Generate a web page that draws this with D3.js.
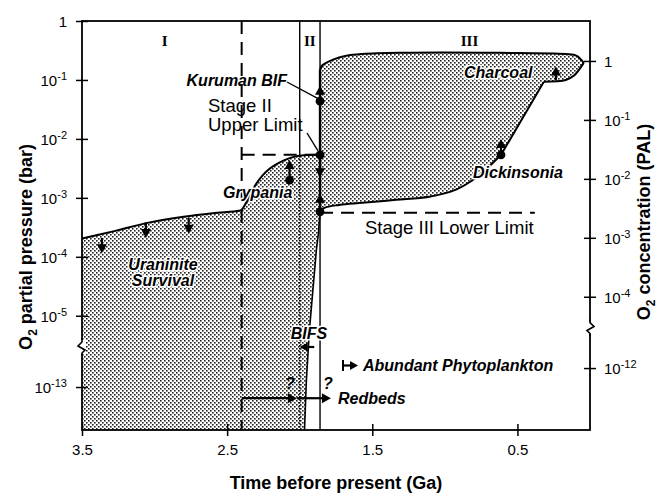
<!DOCTYPE html>
<html>
<head>
<meta charset="utf-8">
<script src="https://cdn.jsdelivr.net/npm/d3@7"></script>
<style>
  body { margin: 0; background: #fff; }
  text { font-family: "Liberation Sans", Arial, Helvetica, sans-serif; fill: #000; }
  .lbl { font-weight: bold; font-style: italic; font-size: 16px; }
  .halo { paint-order: stroke; stroke: #fff; stroke-width: 3px; stroke-linejoin: round; }
  .roman { font-family: "Liberation Serif", "Times New Roman", serif; font-size: 15px; font-weight: bold; }
  .tick text { font-size: 15px; }
</style>
</head>
<body>
<svg id="chart" width="665" height="496"></svg>
<script>
// time before present in Ga, oxygen as log10(pO2 in bar)
const uraniniteCurve = [[3.5, -3.69], [3.27, -3.56], [3.04, -3.42], [2.8, -3.32], [2.6, -3.26], [2.42, -3.22]];
const grypaniaCurve = [[2.40, -3.20], [2.345, -2.97], [2.30, -2.76], [2.22, -2.53], [2.105, -2.36], [2.015, -2.29], [1.86, -2.27]];
const stage3Upper = [[1.86, -0.83], [1.844, -0.75], [1.775, -0.66], [1.679, -0.59], [1.569, -0.56], [1.31, -0.54], [0.627, -0.54], [0.167, -0.56], [0.091, -0.59], [0.043, -0.71]];
const charcoalEdge = [[0.043, -0.71], [0.112, -0.93], [0.167, -1.0], [0.318, -1.03]];
const dickinsoniaEdge = [[0.318, -1.03], [0.613, -2.27]];
const stage3Lower = [[0.613, -2.27], [0.696, -2.47], [0.785, -2.66], [0.923, -2.86], [1.108, -2.98], [1.335, -3.034], [1.569, -3.085], [1.727, -3.12], [1.83, -3.17], [1.86, -3.237]];
const bifEdge = [[1.86, -3.237], [1.871, -3.6], [1.885, -3.88], [1.933, -5.24], [1.954, -12.88], [1.967, -13.73]];

// constraints: dots and arrows [t, from, to]
const fossilDots = [[1.86, -1.36], [1.86, -2.27], [1.86, -3.237], [2.07, -2.70], [0.613, -2.27]];
const constraintArrows = [
  [1.86, -1.36, -1.1], [1.86, -2.27, -2.65], [1.86, -3.237, -2.93],
  [2.07, -2.70, -2.36], [0.613, -2.27, -2.0], [0.235, -1.0, -0.77],
  [3.363, -3.68, -3.94], [3.06, -3.42, -3.68], [2.765, -3.34, -3.61]
];

const stageBounds = [2.4, 2.0, 1.86];
const stage2UpperLimit = -2.27;
const stage3LowerLimit = -3.237;

const timeTicks = [3.5, 2.5, 1.5, 0.5];
const pTicks = [0, -1, -2, -3, -4, -5, -13];
const palTicks = [0, -1, -2, -3, -4, -12];
const PAL_OFFSET = Math.log10(0.21);

const svg = d3.select('#chart');
const L = 82, R = 590, T = 21, B = 430;

const x = d3.scaleLinear().domain([3.5, 0]).range([L, R]);
// broken log axis: upper part down to ~10^-5.5, lower part around 10^-13
const y = d3.scaleLinear().domain([0, -5.53, -12.32, -13.73]).range([T, 347, 347, B]);
const yPal = d3.scaleLinear().domain(y.domain().map(d => d - PAL_OFFSET)).range(y.range());

const defs = svg.append('defs');
const pat = defs.append('pattern').attr('id', 'stip')
  .attr('width', 4).attr('height', 4).attr('patternUnits', 'userSpaceOnUse');
pat.append('rect').attr('width', 4).attr('height', 4).attr('fill', '#fff');
pat.append('rect').attr('x', 0).attr('y', 0).attr('width', 1.6).attr('height', 1.6).attr('fill', '#222');
pat.append('rect').attr('x', 2).attr('y', 2).attr('width', 1.6).attr('height', 1.6).attr('fill', '#222');

const smooth = d3.curveCatmullRom.alpha(0.5);
function seg(pts, curve) {
  return d3.line().x(d => x(d[0])).y(d => y(d[1])).curve(curve)(pts);
}

const pieces = [
  seg(uraniniteCurve.concat(grypaniaCurve), smooth),
  seg(stage3Upper, smooth),
  seg(charcoalEdge, smooth),
  seg(dickinsoniaEdge, d3.curveLinear),
  seg(stage3Lower, smooth),
  seg(bifEdge, d3.curveLinear)
];
const fillPath = pieces[0] + pieces.slice(1).map(s => s.replace(/^M/, 'L')).join('') +
  'L' + x(3.5) + ',' + y(-13.73) + 'Z';

svg.append('path').attr('d', fillPath).attr('fill', 'url(#stip)').attr('stroke', 'none');

// stage boundaries
svg.append('line')
  .attr('x1', x(stageBounds[0])).attr('x2', x(stageBounds[0]))
  .attr('y1', T).attr('y2', B)
  .attr('stroke', '#000').attr('stroke-width', 2).attr('stroke-dasharray', '13,8');
svg.append('line')
  .attr('x1', x(stageBounds[1])).attr('x2', x(stageBounds[1]))
  .attr('y1', T).attr('y2', y(-2.29))
  .attr('stroke', '#000').attr('stroke-width', 1.4);
svg.append('line')
  .attr('x1', x(stageBounds[1])).attr('x2', x(stageBounds[1]))
  .attr('y1', y(-2.29)).attr('y2', B)
  .attr('stroke', '#000').attr('stroke-width', 1.6).attr('stroke-dasharray', '1.5,1.5');
svg.append('line')
  .attr('x1', x(stageBounds[2])).attr('x2', x(stageBounds[2]))
  .attr('y1', T).attr('y2', B)
  .attr('stroke', '#000').attr('stroke-width', 1.4);

// limits
svg.append('line')
  .attr('x1', x(2.4)).attr('x2', x(1.86))
  .attr('y1', y(stage2UpperLimit)).attr('y2', y(stage2UpperLimit))
  .attr('stroke', '#000').attr('stroke-width', 2).attr('stroke-dasharray', '13,8');
svg.append('line')
  .attr('x1', x(1.86)).attr('x2', x(0.38))
  .attr('y1', y(stage3LowerLimit) + 1).attr('y2', y(stage3LowerLimit) + 1)
  .attr('stroke', '#000').attr('stroke-width', 2).attr('stroke-dasharray', '13,8');

// boundary curves
pieces.forEach((d, i) => {
  svg.append('path').attr('d', d).attr('fill', 'none')
    .attr('stroke', '#000').attr('stroke-width', i === 5 ? 1.6 : 2);
});
svg.append('line')
  .attr('x1', x(1.86)).attr('x2', x(1.86))
  .attr('y1', y(-0.83)).attr('y2', y(-3.237))
  .attr('stroke', '#000').attr('stroke-width', 2.4);

// arrows
function arrow(x1, y1, x2, y2, head, w) {
  head = head || 9; w = w || 5;
  const a = Math.atan2(y2 - y1, x2 - x1);
  const c = Math.cos(a), s = Math.sin(a);
  svg.append('line')
    .attr('x1', x1).attr('y1', y1)
    .attr('x2', x2 - c * head * 0.7).attr('y2', y2 - s * head * 0.7)
    .attr('stroke', '#000').attr('stroke-width', 2.2);
  svg.append('path')
    .attr('d', 'M' + x2 + ',' + y2 +
      'L' + (x2 - c * head + s * w) + ',' + (y2 - s * head - c * w) +
      'L' + (x2 - c * head - s * w) + ',' + (y2 - s * head + c * w) + 'Z')
    .attr('fill', '#000');
}

constraintArrows.forEach(d => arrow(x(d[0]), y(d[1]), x(d[0]), y(d[2])));

svg.selectAll('.dot').data(fossilDots).enter().append('circle')
  .attr('class', 'dot')
  .attr('cx', d => x(d[0])).attr('cy', d => y(d[1])).attr('r', 4.4)
  .attr('fill', '#000');

// leader lines
svg.append('line').attr('x1', 287).attr('y1', 82).attr('x2', x(1.87)).attr('y2', y(-1.32))
  .attr('stroke', '#000').attr('stroke-width', 1.4);
svg.append('line').attr('x1', 307).attr('y1', 133).attr('x2', x(1.875)).attr('y2', y(-2.2))
  .attr('stroke', '#000').attr('stroke-width', 1.4);

// redbeds, BIFs, phytoplankton
const yRed = y(-13.19);
arrow(x(2.4), yRed, x(2.02), yRed);
arrow(x(2.02), yRed, x(1.785), yRed);
arrow(x(1.90), y(-5.53), x(2.0), y(-5.53), 8, 4.5);
svg.append('line').attr('x1', 343).attr('x2', 343).attr('y1', 360).attr('y2', 371)
  .attr('stroke', '#000').attr('stroke-width', 2);
arrow(343, 365.5, 358, 365.5, 8, 4.5);

// frame
svg.append('rect').attr('x', L).attr('y', T).attr('width', R - L).attr('height', B - T)
  .attr('fill', 'none').attr('stroke', '#000').attr('stroke-width', 1.8);

// axes
function supLabel(sel, v, anchor) {
  sel.each(function (d) {
    const t = d3.select(this).text(null).attr('text-anchor', anchor).attr('dy', '0.36em');
    const e = v(d);
    if (e === 0) { t.text('1'); return; }
    t.append('tspan').text('10');
    t.append('tspan').attr('dy', -6).attr('font-size', 11).text(String(e));
  });
}

const gl = svg.append('g').attr('transform', `translate(${L},0)`)
  .call(d3.axisLeft(y).tickValues(pTicks).tickSize(6).tickPadding(9));
gl.select('.domain').remove();
gl.selectAll('.tick line').attr('x1', 6).attr('stroke-width', 1.5);
gl.selectAll('.tick text').call(supLabel, d => d, 'end');

const gr = svg.append('g').attr('transform', `translate(${R},0)`)
  .call(d3.axisRight(yPal).tickValues(palTicks).tickSize(6).tickPadding(8));
gr.select('.domain').remove();
gr.selectAll('.tick line').attr('x1', -6).attr('stroke-width', 1.5);
gr.selectAll('.tick text').call(supLabel, d => d, 'start');

const gb = svg.append('g').attr('transform', `translate(0,${B})`)
  .call(d3.axisBottom(x).tickValues(timeTicks).tickSize(6).tickFormat(d3.format('.1f')));
gb.select('.domain').remove();
gb.selectAll('.tick line').attr('y1', -6).attr('stroke-width', 1.5);
gb.selectAll('.tick text').attr('y', 14);
svg.selectAll('.tick text').style('font-family', '"Liberation Sans", Arial, sans-serif');

// axis breaks
svg.append('rect').attr('x', L - 4).attr('y', 340).attr('width', 8).attr('height', 14).attr('fill', '#fff');
svg.append('path').attr('d', `M${L},338L${L},342L${L - 4},346L${L + 3},350L${L},353L${L},356`)
  .attr('fill', 'none').attr('stroke', '#000').attr('stroke-width', 1.6);
const yb = y(-5.2);
svg.append('rect').attr('x', R - 4).attr('y', yb - 6).attr('width', 8).attr('height', 12).attr('fill', '#fff');
svg.append('path').attr('d', `M${R},${yb - 8}L${R},${yb - 5}L${R + 4},${yb - 1}L${R - 3},${yb + 3}L${R},${yb + 6}L${R},${yb + 9}`)
  .attr('fill', 'none').attr('stroke', '#000').attr('stroke-width', 1.6);

// axis titles
function title(tx, ty, rot, parts) {
  const t = svg.append('text')
    .attr('transform', `translate(${tx},${ty})` + (rot ? ` rotate(${rot})` : ''))
    .attr('text-anchor', 'middle').attr('font-weight', 'bold').attr('font-size', 18);
  parts.forEach(p => {
    const s = t.append('tspan').text(p.t);
    if (p.dy) s.attr('dy', p.dy);
    if (p.fs) s.attr('font-size', p.fs);
  });
}
title((L + R) / 2, 489, 0, [{ t: 'Time before present (Ga)' }]);
title(32, 247, -90, [{ t: 'O' }, { t: '2', dy: 5, fs: 12 }, { t: ' partial pressure (bar)', dy: -5 }]);
title(650, 222, -90, [{ t: 'O' }, { t: '2', dy: 5, fs: 12 }, { t: ' concentration (PAL)', dy: -5 }]);

// stage numerals
[['I', 2.93], ['II', 1.93], ['III', 0.83]].forEach(d => {
  svg.append('text').attr('class', 'roman').attr('x', x(d[1])).attr('y', 46)
    .attr('text-anchor', 'middle').text(d[0]);
});

// labels
function label(txt, lx, ly, anchor, cls, size) {
  svg.append('text').attr('class', cls).attr('x', lx).attr('y', ly)
    .attr('text-anchor', anchor || 'start')
    .attr('font-size', size || null)
    .text(txt);
}
label('Kuruman BIF', 287, 86, 'end', 'lbl');
label('Grypania', 223, 198, 'start', 'lbl halo');
label('Uraninite', 163, 270, 'middle', 'lbl halo');
label('Survival', 163, 286, 'middle', 'lbl halo');
label('Charcoal', 464, 78, 'start', 'lbl halo');
label('Dickinsonia', 473, 178, 'start', 'lbl halo');
label('BIFS', 309, 339, 'middle', 'lbl halo');
label('Abundant Phytoplankton', 363, 371, 'start', 'lbl');
label('Redbeds', 338, 404, 'start', 'lbl');
label('?', 290, 389, 'middle', 'lbl', 15);
label('?', 328, 389, 'middle', 'lbl', 15);
label('Stage II', 208, 112, 'start', '', 18.5);
label('Upper Limit', 208, 131, 'start', '', 18.5);
label('Stage III Lower Limit', 365, 234, 'start', '', 18.5);
</script>
</body>
</html>
